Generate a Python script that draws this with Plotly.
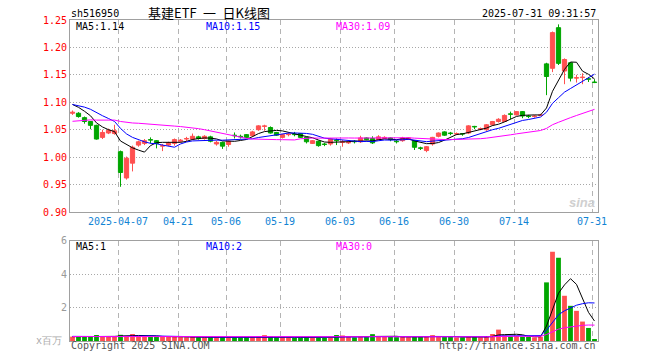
import pandas as pd
import plotly.graph_objects as go

# ---------------- data ----------------
holidays = ["2025-04-04", "2025-05-01", "2025-05-02", "2025-05-05", "2025-06-02"]
dates = [d.strftime("%Y-%m-%d") for d in pd.bdate_range("2025-03-25", "2025-07-31")
         if d.strftime("%Y-%m-%d") not in holidays]

open_ = [1.080, 1.080, 1.072, 1.065, 1.058, 1.036, 1.044, 1.043, 1.010, 0.962,
         0.989, 1.022, 1.025, 1.032, 1.030, 1.020, 1.022, 1.025, 1.029, 1.033,
         1.033, 1.037, 1.034, 1.037, 1.024, 1.027, 1.023, 1.040, 1.038, 1.041,
         1.039, 1.050, 1.056, 1.054, 1.045, 1.036, 1.041, 1.042, 1.043, 1.036,
         1.025, 1.029, 1.024, 1.024, 1.031, 1.027, 1.026, 1.029, 1.028, 1.035,
         1.034, 1.032, 1.034, 1.035, 1.029, 1.030, 1.033, 1.030, 1.017, 1.012,
         1.024, 1.038, 1.046, 1.044, 1.042, 1.043, 1.044, 1.056, 1.051, 1.050,
         1.059, 1.065, 1.065, 1.079, 1.077, 1.083, 1.075, 1.074, 1.076, 1.170,
         1.162, 1.236, 1.157, 1.172, 1.144, 1.145, 1.143, 1.137]
high = [1.085, 1.082, 1.074, 1.066, 1.059, 1.050, 1.052, 1.059, 1.012, 1.001,
        1.021, 1.030, 1.033, 1.036, 1.031, 1.024, 1.028, 1.034, 1.033, 1.037,
        1.043, 1.039, 1.040, 1.039, 1.030, 1.028, 1.030, 1.045, 1.041, 1.042,
        1.048, 1.058, 1.059, 1.056, 1.046, 1.042, 1.044, 1.046, 1.044, 1.037,
        1.031, 1.030, 1.026, 1.035, 1.034, 1.031, 1.029, 1.031, 1.039, 1.036,
        1.038, 1.040, 1.038, 1.036, 1.031, 1.037, 1.036, 1.031, 1.019, 1.020,
        1.037, 1.045, 1.047, 1.046, 1.045, 1.044, 1.058, 1.057, 1.054, 1.060,
        1.066, 1.071, 1.078, 1.083, 1.084, 1.084, 1.077, 1.077, 1.079, 1.172,
        1.229, 1.242, 1.180, 1.173, 1.150, 1.153, 1.146, 1.142]
low = [1.077, 1.072, 1.061, 1.051, 1.032, 1.033, 1.042, 1.041, 0.946, 0.959,
       0.974, 1.019, 1.022, 1.025, 1.016, 1.011, 1.020, 1.021, 1.027, 1.029,
       1.031, 1.032, 1.032, 1.027, 1.021, 1.015, 1.019, 1.034, 1.034, 1.035,
       1.037, 1.048, 1.048, 1.043, 1.039, 1.034, 1.038, 1.038, 1.035, 1.025,
       1.024, 1.019, 1.020, 1.021, 1.022, 1.019, 1.024, 1.025, 1.026, 1.031,
       1.024, 1.031, 1.033, 1.029, 1.025, 1.028, 1.032, 1.013, 1.013, 1.009,
       1.021, 1.036, 1.039, 1.040, 1.040, 1.039, 1.042, 1.051, 1.049, 1.048,
       1.057, 1.063, 1.064, 1.069, 1.076, 1.071, 1.071, 1.072, 1.075, 1.113,
       1.155, 1.168, 1.133, 1.138, 1.136, 1.133, 1.137, 1.135]
close = [1.082, 1.074, 1.065, 1.058, 1.033, 1.045, 1.049, 1.048, 0.972, 0.998,
         1.018, 1.028, 1.030, 1.031, 1.025, 1.021, 1.026, 1.032, 1.031, 1.034,
         1.038, 1.034, 1.038, 1.029, 1.027, 1.020, 1.029, 1.039, 1.037, 1.036,
         1.046, 1.057, 1.057, 1.044, 1.040, 1.041, 1.042, 1.041, 1.036, 1.028,
         1.030, 1.021, 1.023, 1.033, 1.030, 1.028, 1.027, 1.028, 1.035, 1.032,
         1.026, 1.037, 1.036, 1.032, 1.028, 1.035, 1.035, 1.018, 1.016, 1.019,
         1.036, 1.044, 1.040, 1.043, 1.043, 1.042, 1.057, 1.055, 1.052, 1.059,
         1.065, 1.069, 1.076, 1.078, 1.083, 1.075, 1.074, 1.075, 1.077, 1.147,
         1.227, 1.171, 1.178, 1.144, 1.145, 1.146, 1.142, 1.136]
volume = [0.26, 0.24, 0.24, 0.25, 0.36, 0.27, 0.24, 0.26, 0.37, 0.30,
          0.42, 0.30, 0.27, 0.26, 0.28, 0.25, 0.24, 0.25, 0.23, 0.22,
          0.24, 0.22, 0.22, 0.23, 0.22, 0.24, 0.22, 0.22, 0.21, 0.22,
          0.24, 0.26, 0.35, 0.25, 0.22, 0.24, 0.22, 0.20, 0.21, 0.22,
          0.20, 0.20, 0.19, 0.20, 0.36, 0.33, 0.24, 0.22, 0.25, 0.24,
          0.41, 0.27, 0.26, 0.24, 0.23, 0.24, 0.23, 0.28, 0.24, 0.26,
          0.35, 0.27, 0.25, 0.24, 0.22, 0.22, 0.26, 0.24, 0.22, 0.25,
          0.42, 0.68, 0.33, 0.28, 0.30, 0.26, 0.24, 0.22, 0.25, 3.50,
          5.33, 4.97, 2.70, 2.10, 1.80, 1.16, 0.78, 0.12]
# trading days before the visible window (needed for the moving averages)
prior_close = [1.038, 1.042, 1.040, 1.045, 1.043, 1.047, 1.050, 1.048, 1.052, 1.046,
               1.044, 1.049, 1.053, 1.051, 1.055, 1.058, 1.054, 1.057, 1.060, 1.068,
               1.092, 1.095, 1.098, 1.096, 1.099, 1.100, 1.101, 1.099, 1.098]
prior_volume = [0.25, 0.27, 0.24, 0.26, 0.28, 0.25, 0.23, 0.26, 0.27, 0.24,
                0.25, 0.28, 0.26, 0.24, 0.25, 0.27, 0.29, 0.26, 0.25, 0.31,
                0.33, 0.30, 0.28, 0.27, 0.29, 0.26, 0.27, 0.25, 0.26]
ma_windows = [5, 10, 30]
tick_dates = ["2025-04-07", "2025-04-21", "2025-05-06", "2025-05-19", "2025-06-03",
              "2025-06-16", "2025-06-30", "2025-07-14", "2025-07-31"]
tick_text = ["2025-04-07", "04-21", "05-06", "05-19", "06-03",
             "06-16", "06-30", "07-14", "07-31"]
price_ticks = [0.90, 0.95, 1.00, 1.05, 1.10, 1.15, 1.20, 1.25]
vol_ticks = [2, 4, 6]

# ---------------- derived ----------------
n = len(dates)
xs = list(range(n))
np_ = len(prior_close)
c_all = pd.Series(prior_close + close)
v_all = pd.Series(prior_volume + volume)
ma_p = {w: c_all.rolling(w).mean().iloc[np_:].tolist() for w in ma_windows}
ma_v = {w: v_all.rolling(w).mean().iloc[np_:].tolist() for w in ma_windows}

RED = "#ff5050"
GREEN = "#00a600"
ma_colors = {5: "#000000", 10: "#0000ff", 30: "#ff00ff"}
up = [c >= o for o, c in zip(open_, close)]
colors = [RED if u else GREEN for u in up]

MONO = "DejaVu Sans Mono"
W, H = 660, 360
L, R, T, B = 70, 62, 20, 19
PW, PH = W - L - R, H - T - B
main_top, main_bot = 20, 212
vol_top, vol_bot = 240.5, 341


def fx(px):
    return (px - L) / PW


def fy(py):
    return (H - B - py) / PH


fig = go.Figure()

# wicks
for flag, col in [(True, RED), (False, GREEN)]:
    wx, wy = [], []
    for i in xs:
        if up[i] == flag:
            wx += [i, i, None]
            wy += [low[i], high[i], None]
    fig.add_trace(go.Scatter(x=wx, y=wy, mode="lines", line=dict(color=col, width=1),
                             hoverinfo="skip", showlegend=False, xaxis="x", yaxis="y"))

# bodies
fig.add_trace(go.Bar(x=xs, y=[c - o for o, c in zip(open_, close)], base=open_,
                     width=0.7, marker=dict(color=colors, line=dict(color=colors, width=1)),
                     hoverinfo="skip", showlegend=False, xaxis="x", yaxis="y"))

# price MAs
for w in ma_windows:
    fig.add_trace(go.Scatter(x=xs, y=ma_p[w], mode="lines",
                             line=dict(color=ma_colors[w], width=1),
                             hoverinfo="skip", showlegend=False, xaxis="x", yaxis="y"))

# volume
fig.add_trace(go.Bar(x=xs, y=volume, width=0.8, marker=dict(color=colors, line=dict(width=0)),
                     hoverinfo="skip", showlegend=False, xaxis="x2", yaxis="y2"))
for w in ma_windows:
    fig.add_trace(go.Scatter(x=xs, y=ma_v[w], mode="lines",
                             line=dict(color=ma_colors[w], width=1),
                             hoverinfo="skip", showlegend=False, xaxis="x2", yaxis="y2"))

r0 = -0.4167
tickpos = [dates.index(d) + r0 for d in tick_dates]
xcommon = dict(range=[r0, r0 + n], tickmode="array", tickvals=tickpos,
               showgrid=True, gridcolor="#b4b4b4", griddash="5px,4px", gridwidth=1,
               showline=True, mirror=True, linecolor="#a0a0a0", linewidth=1,
               zeroline=False, ticks="", fixedrange=True)
fig.update_layout(
    width=W, height=H, margin=dict(l=L, r=R, t=T, b=B),
    paper_bgcolor="white", plot_bgcolor="white", showlegend=False,
    font=dict(family=MONO, size=10, color="#000"),
    xaxis=dict(**xcommon, domain=[0, 1], anchor="y", ticktext=tick_text,
               tickfont=dict(family=MONO, size=10, color="#1284d4")),
    xaxis2=dict(**xcommon, domain=[0, 1], anchor="y2", showticklabels=False,
                matches="x"),
    yaxis=dict(domain=[fy(main_bot), fy(main_top)], range=[0.90, 1.25],
               tickmode="array", tickvals=price_ticks,
               ticktext=["%.2f" % t for t in price_ticks],
               tickfont=dict(family=MONO, size=10, color="#ff0000"),
               showgrid=True, gridcolor="#a8a8a8", griddash="1px,2px",
               showline=True, mirror=True, linecolor="#a0a0a0", linewidth=1,
               zeroline=False, ticks="", anchor="x", fixedrange=True),
    yaxis2=dict(domain=[fy(vol_bot), fy(vol_top)], range=[0, 6],
                tickmode="array", tickvals=vol_ticks,
                ticktext=[str(t) for t in vol_ticks],
                tickfont=dict(family=MONO, size=10, color="#999999"),
                showgrid=True, gridcolor="#a8a8a8", griddash="1px,2px",
                showline=True, mirror=True, linecolor="#a0a0a0", linewidth=1,
                zeroline=False, ticks="", anchor="x2", fixedrange=True),
)


def ann(text, px, py, color="#000", xanchor="left", size=10, family=MONO, **kw):
    fig.add_annotation(text=text, x=fx(px), y=fy(py), xref="paper", yref="paper",
                       xanchor=xanchor, yanchor="middle", showarrow=False,
                       font=dict(family=family, size=size, color=color), **kw)


ann("sh516950", 69, 13)
ann("基建ETF\u2002一\u2002日K线图", 209, 12, xanchor="center", size=13,
    family="Noto Sans CJK SC")
ann("2025-07-31 09:31:57", 598, 13, xanchor="right")

ann("MA5:%.2f" % ma_p[5][-1], 74, 26, color=ma_colors[5])
ann("MA10:%.2f" % ma_p[10][-1], 204, 26, color=ma_colors[10])
ann("MA30:%.2f" % ma_p[30][-1], 334, 26, color=ma_colors[30])

ann("MA5:%d" % int(ma_v[5][-1]), 74, 246, color=ma_colors[5])
ann("MA10:%d" % int(ma_v[10][-1]), 204, 246, color=ma_colors[10])
ann("MA30:%d" % int(ma_v[30][-1]), 334, 246, color=ma_colors[30])

ann("x百万", 64, 340, color="#aaaaaa", xanchor="right")
ann("Copyright 2025 SINA.COM", 69, 346, color="#555555")
ann("http://finance.sina.com.cn", 598, 346, color="#555555", xanchor="right")
ann("<i><b>sina</b></i>", 582, 202, color="#d0d0d0", xanchor="center", size=13,
    family="Liberation Sans")

fig.write_html("out.html", config={"displayModeBar": False, "staticPlot": True},
               post_script="document.body.style.margin='0';document.body.style.overflow='hidden';")
